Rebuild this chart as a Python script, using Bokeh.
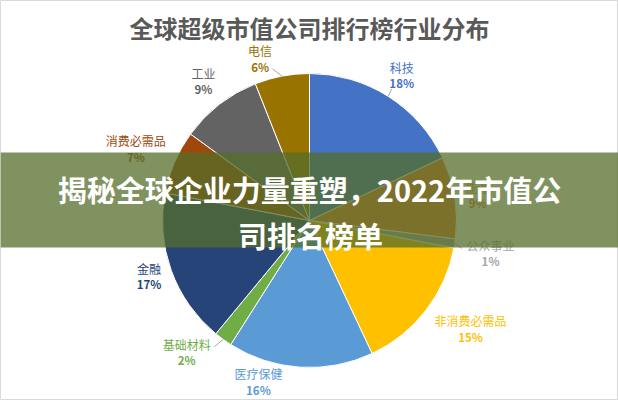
import numpy as np
from bokeh.plotting import figure
from bokeh.models import ColumnDataSource, Range1d
from bokeh.core.properties import value
from bokeh.embed import file_html
from bokeh.resources import INLINE

# ---- data ----
title = "全球超级市值公司排行榜行业分布"
banner_lines = ["揭秘全球企业力量重塑，2022年市值公", "司排名榜单"]
sectors = ["科技", "能源", "公众事业", "非消费必需品", "医疗保健",
           "基础材料", "金融", "消费必需品", "工业", "电信"]
shares = [18, 9, 1, 15, 16, 2, 17, 7, 9, 6]
colors = ["#4472C4", "#ED7D31", "#A5A5A5", "#FFC000", "#5B9BD5",
          "#70AD47", "#264478", "#9E480E", "#636363", "#997300"]

# ---- layout / style ----
W, H = 618, 400
FONT = value("Noto Sans CJK SC")
cx, cy, R = 309, 400 - 220, 147
label_r = [172, 170, 184, 194, 169, 180, 170, 188, 175, 169]
label_da = [0, -0.5, -1.3, 3.9, -14, -7, -0.6, 0.9, -0.5, 6.2]
leader = {0: (155, 0.4), 9: (156, 2.9), 2: (155, -1.4), 5: (158, -1.0)}

p = figure(width=W, height=H, output_backend="svg", toolbar_location=None,
           x_range=Range1d(0, W), y_range=Range1d(0, H),
           min_border=0, min_border_left=0, min_border_right=0,
           min_border_top=0, min_border_bottom=0)
p.axis.visible = False
p.grid.visible = False
p.outline_line_color = "#D9D9D9"
p.background_fill_color = "white"
p.border_fill_color = "white"

vals = np.array(shares, dtype=float)
frac = vals / vals.sum()
cum = np.concatenate([[0], np.cumsum(frac)])
start = np.pi / 2 - 2 * np.pi * cum[:-1]
end = np.pi / 2 - 2 * np.pi * cum[1:]
mid = (start + end) / 2

src = ColumnDataSource(dict(start=start, end=end, color=colors, name=sectors))
p.wedge(x=cx, y=cy, radius=R, start_angle="start", end_angle="end",
        direction="clock", fill_color="color", line_color="white",
        line_width=1, source=src)

# leader lines
for i, (lr, da) in leader.items():
    a = mid[i]
    b = a + np.deg2rad(da)
    p.line([cx + R * np.cos(a), cx + lr * np.cos(b)],
           [cy + R * np.sin(a), cy + lr * np.sin(b)],
           line_color="#A6A6A6", line_width=1)

# labels
ang = mid + np.deg2rad(label_da)
lx = cx + np.array(label_r) * np.cos(ang)
ly = cy + np.array(label_r) * np.sin(ang)
pct = [f"{v}%" for v in shares]
p.text(x=lx, y=ly + 8, text=sectors, text_color=colors, text_font=FONT,
       text_font_size="12px", text_align="center", text_baseline="middle")
p.text(x=lx, y=ly - 8, text=pct, text_color=colors, text_font=FONT,
       text_font_size="11.5px", text_font_style="bold",
       text_align="center", text_baseline="middle")

# chart title
p.text(x=[309], y=[400 - 26.5], text=[title], text_color="#595959",
       text_font=FONT, text_font_size="24px", text_font_style="bold",
       text_align="center", text_baseline="middle")

# overlay banner
p.quad(left=[0], right=[W], bottom=[400 - 247], top=[400 - 152],
       fill_color="#546D29", fill_alpha=0.75, line_color=None)
p.text(x=[309, 310], y=[400 - 188, 400 - 234], text=banner_lines,
       text_color="white", text_font=FONT, text_font_size="29px",
       text_font_style="bold", text_align="center", text_baseline="middle")

open("out.html", "w").write(file_html(p, INLINE))
